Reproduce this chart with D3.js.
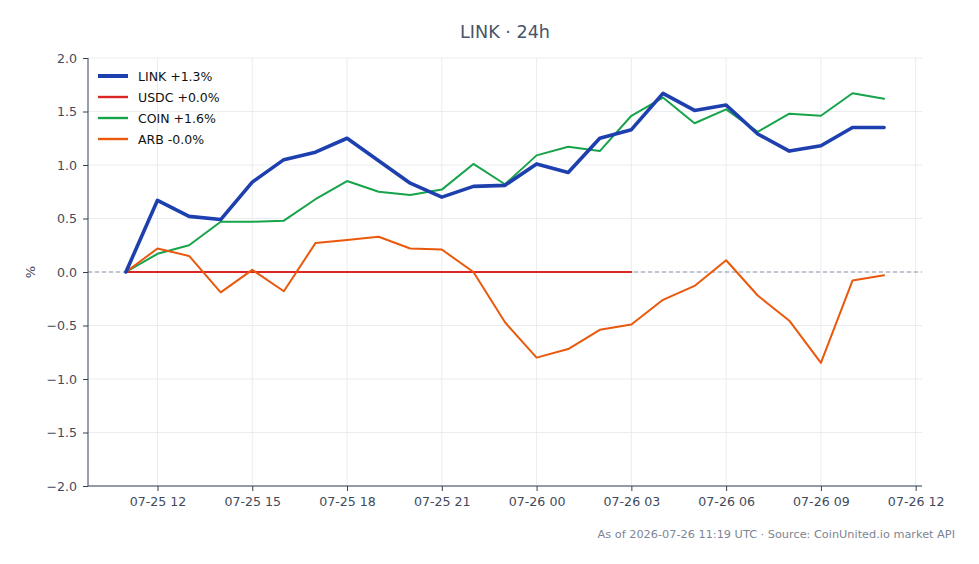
<!DOCTYPE html>
<html>
<head>
<meta charset="utf-8">
<script src="https://cdn.jsdelivr.net/npm/d3@7"></script>
<style>
  body { margin: 0; background: #fff; }
  svg text { font-family: "DejaVu Sans", sans-serif; }
</style>
</head>
<body>
<div id="chart"></div>
<script>
// hourly points, 07-25 11:00 UTC to 07-26 11:00 UTC
const startTime = "2026-07-25T11:00:00Z";
const hours = d3.range(25);

const seriesNames = ["LINK +1.3%", "USDC +0.0%", "COIN +1.6%", "ARB -0.0%"];
const linkValues = [0, 0.67, 0.52, 0.49, 0.84, 1.05, 1.12, 1.25, 1.04, 0.83, 0.70, 0.80, 0.81, 1.01, 0.93, 1.25, 1.33, 1.67, 1.51, 1.56, 1.29, 1.13, 1.18, 1.35, 1.35];
const usdcValues = [0, 0, 0, 0, 0, 0, 0, 0, 0, 0, 0, 0, 0, 0, 0, 0, 0];
const coinValues = [0, 0.17, 0.25, 0.47, 0.47, 0.48, 0.68, 0.85, 0.75, 0.72, 0.77, 1.01, 0.82, 1.09, 1.17, 1.13, 1.46, 1.63, 1.39, 1.52, 1.31, 1.48, 1.46, 1.67, 1.62];
const arbValues = [0, 0.22, 0.15, -0.19, 0.02, -0.18, 0.27, 0.30, 0.33, 0.22, 0.21, 0.00, -0.47, -0.80, -0.72, -0.54, -0.49, -0.26, -0.13, 0.11, -0.22, -0.455, -0.85, -0.08, -0.03];
const yTicks = [-2.0, -1.5, -1.0, -0.5, 0.0, 0.5, 1.0, 1.5, 2.0];

const colors = ["#1e40af", "#dc2626", "#16a34a", "#ea580c"];
const widths = [3.6, 2, 2, 2];

const width = 979, height = 564;
const margin = {left: 88, right: 57, top: 58, bottom: 78};

const svg = d3.select("#chart").append("svg")
    .attr("width", width)
    .attr("height", height);

const t0 = new Date(startTime);
const times = hours.map(h => d3.utcHour.offset(t0, h));
const pad = 1.2 * 3600 * 1000;

//----------------------------SCALES----------------------------//
const xScale = d3.scaleUtc()
    .domain([new Date(+times[0] - pad), new Date(+times[24] + pad)])
    .range([margin.left, width - margin.right]);
const yScale = d3.scaleLinear()
    .domain([-2, 2])
    .range([height - margin.bottom, margin.top]);

const xTicks = xScale.ticks(d3.utcHour.every(3));

//-----------------------------GRID-----------------------------//
svg.append("g").selectAll("line")
    .data(xTicks).enter().append("line")
    .attr("x1", d => xScale(d)).attr("x2", d => xScale(d))
    .attr("y1", margin.top).attr("y2", height - margin.bottom)
    .attr("stroke", "#e5e7eb").attr("stroke-width", 0.8);

svg.append("g").selectAll("line")
    .data(yTicks).enter().append("line")
    .attr("x1", margin.left).attr("x2", width - margin.right)
    .attr("y1", d => yScale(d)).attr("y2", d => yScale(d))
    .attr("stroke", "#e5e7eb").attr("stroke-width", 0.8);

// zero reference line
svg.append("line")
    .attr("x1", margin.left).attr("x2", width - margin.right)
    .attr("y1", yScale(0)).attr("y2", yScale(0))
    .attr("stroke", "#8e97aa").attr("stroke-width", 1.1)
    .attr("stroke-dasharray", "4,3");

//-----------------------------AXES-----------------------------//
const xaxis = d3.axisBottom(xScale)
    .tickValues(xTicks)
    .tickSize(5)
    .tickPadding(6)
    .tickFormat(d3.utcFormat("%m-%d %H"));

const yaxis = d3.axisLeft(yScale)
    .tickValues(yTicks)
    .tickSize(5)
    .tickPadding(6)
    .tickFormat(d3.format(".1f"));

const gx = svg.append("g")
    .attr("transform", "translate(0," + (height - margin.bottom) + ")")
    .call(xaxis);
const gy = svg.append("g")
    .attr("transform", "translate(" + margin.left + ",0)")
    .call(yaxis);

[gx, gy].forEach(g => {
    g.select(".domain").attr("stroke", "#334155").attr("stroke-width", 1);
    g.selectAll(".tick line").attr("stroke", "#334155");
    g.selectAll(".tick text").attr("fill", "#3f4a5c").style("font-size", "12.6px");
});
gx.select(".domain").attr("d", "M" + margin.left + ",0H" + (width - margin.right));
gy.select(".domain").attr("d", "M0," + margin.top + "V" + (height - margin.bottom));

svg.append("text")
    .attr("transform", "translate(35," + yScale(0) + ") rotate(-90)")
    .attr("text-anchor", "middle")
    .attr("fill", "#3f4a5c")
    .style("font-size", "13px")
    .text("%");

//----------------------------LINES-----------------------------//
const allValues = [linkValues, usdcValues, coinValues, arbValues];
const line = d3.line()
    .x((d, i) => xScale(times[i]))
    .y(d => yScale(d));

// draw order: USDC, COIN, ARB under LINK
[1, 2, 3, 0].forEach(k => {
    svg.append("path")
        .datum(allValues[k])
        .attr("fill", "none")
        .attr("stroke", colors[k])
        .attr("stroke-width", widths[k])
        .attr("stroke-linejoin", "round")
        .attr("stroke-linecap", "round")
        .attr("d", line);
});

//----------------------------LEGEND----------------------------//
const legend = svg.append("g").attr("transform", "translate(98,76)");
seriesNames.forEach((name, k) => {
    const row = legend.append("g").attr("transform", "translate(0," + (k * 21) + ")");
    row.append("line")
        .attr("x1", 0).attr("x2", 30)
        .attr("stroke", colors[k]).attr("stroke-width", widths[k] + 0.4);
    row.append("text")
        .attr("x", 40).attr("y", 4.5)
        .attr("fill", "#111")
        .style("font-size", "12.5px")
        .text(name);
});

//----------------------------TITLES----------------------------//
svg.append("text")
    .attr("x", (margin.left + width - margin.right) / 2)
    .attr("y", 38)
    .attr("text-anchor", "middle")
    .attr("fill", "#475569")
    .style("font-size", "17.6px")
    .text("LINK · 24h");

svg.append("text")
    .attr("x", 955)
    .attr("y", 538)
    .attr("text-anchor", "end")
    .attr("fill", "#7c8595")
    .style("font-size", "11.3px")
    .text("As of 2026-07-26 11:19 UTC · Source: CoinUnited.io market API");
</script>
</body>
</html>
